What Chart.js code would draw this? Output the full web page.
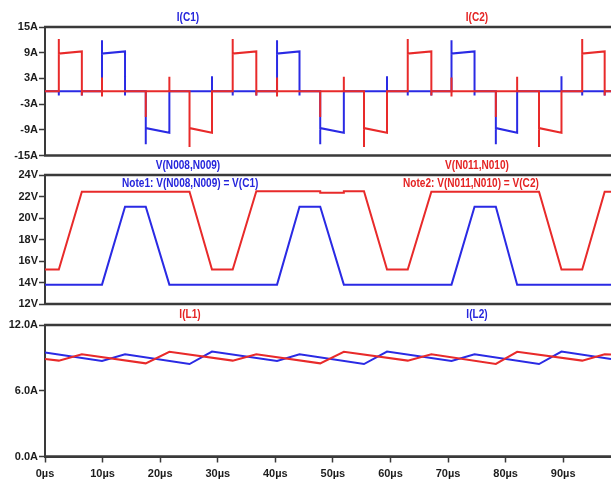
<!DOCTYPE html>
<html>
<head>
<meta charset="utf-8">
<script src="https://cdn.jsdelivr.net/npm/chart.js@4.4.1/dist/chart.umd.min.js"></script>
<style>
  html, body { margin: 0; padding: 0; background: #fff; }
  #wrap { position: relative; width: 611px; height: 479px; overflow: hidden; background: #fff; }
  #wrap canvas { position: absolute; left: 0; }
  .lbl { position: absolute; font: bold 12px "Liberation Sans", Arial, sans-serif;
         white-space: nowrap; line-height: 14px; z-index: 5; }
  .mid { transform: translateX(-50%) scaleX(0.84); transform-origin: 50% 50%; }
  .left { transform: scaleX(0.84); transform-origin: 0 50%; }
  .blue { color: #2626dc; }
  .red { color: #e42424; }
</style>
</head>
<body>
<div id="wrap">
  <canvas id="paneCap" width="611" height="150" style="top:17px"></canvas>
  <canvas id="paneVolt" width="611" height="150" style="top:165px"></canvas>
  <canvas id="paneInd" width="611" height="164" style="top:315px"></canvas>

  <div class="lbl mid blue" style="left:188px;top:10px">I(C1)</div>
  <div class="lbl mid red" style="left:477px;top:10px">I(C2)</div>
  <div class="lbl mid blue" style="left:188px;top:158px">V(N008,N009)</div>
  <div class="lbl mid red" style="left:477px;top:158px">V(N011,N010)</div>
  <div class="lbl left blue" style="left:122px;top:176px">Note1: V(N008,N009) = V(C1)</div>
  <div class="lbl left red" style="left:403px;top:176px">Note2: V(N011,N010) = V(C2)</div>
  <div class="lbl mid red" style="left:190px;top:307px">I(L1)</div>
  <div class="lbl mid blue" style="left:477px;top:307px">I(L2)</div>
</div>
<script>
// ---- time axis (µs) ----
const timeTicks = [0, 10, 20, 30, 40, 50, 60, 70, 80, 90];
const timeLabels = ['0µs', '10µs', '20µs', '30µs', '40µs', '50µs', '60µs', '70µs', '80µs', '90µs'];
const timeEnd = 98.3;

// ---- capacitor currents, pane 1 (A) ----
const capTicks = [-15, -9, -3, 3, 9, 15];
const capLabels = ['-15A', '-9A', '-3A', '3A', '9A', '15A'];

// [time µs, current A]
const iC1 = [
  [0, 0],
  [2.4, 0], [2.4, -1.0], [2.4, 0],
  [6.4, 0], [6.4, -1.0], [6.4, 0],
  [9.9, 0], [9.9, 11.9], [9.9, 8.8], [13.9, 9.3], [13.9, -1.0], [13.9, 0],
  [17.5, 0], [17.5, -12.4], [17.5, -8.6], [21.6, -9.7], [21.6, 0],
  [29.0, 0], [29.0, 3.5], [29.0, 0],
  [32.6, 0], [32.6, -1.0], [32.6, 0],
  [36.7, 0], [36.7, -1.0], [36.7, 0],
  [40.3, 0], [40.3, 11.9], [40.3, 8.8], [44.2, 9.3], [44.2, -1.0], [44.2, 0],
  [47.8, 0], [47.8, -12.4], [47.8, -8.6], [51.9, -9.7], [51.9, 0],
  [59.4, 0], [59.4, 3.5], [59.4, 0],
  [63.0, 0], [63.0, -1.0], [63.0, 0],
  [67.1, 0], [67.1, -1.0], [67.1, 0],
  [70.6, 0], [70.6, 11.9], [70.6, 8.8], [74.6, 9.3], [74.6, -1.0], [74.6, 0],
  [78.3, 0], [78.3, -12.4], [78.3, -8.6], [82.0, -9.7], [82.0, 0],
  [89.7, 0], [89.7, 3.5], [89.7, 0],
  [93.3, 0], [93.3, -1.0], [93.3, 0],
  [97.2, 0], [97.2, -1.0], [97.2, 0],
  [98.3, 0]
];

const iC2 = [
  [0, 0],
  [2.4, 0], [2.4, 12.2], [2.4, 8.8], [6.4, 9.3], [6.4, -1.0], [6.4, 0],
  [9.9, 0], [9.9, 3.2], [9.9, -1.2], [9.9, 0],
  [17.5, 0], [17.5, -6.0], [17.5, 0],
  [21.6, 0], [21.6, 3.4], [21.6, 0],
  [25.1, 0], [25.1, -13.0], [25.1, -8.6], [29.0, -9.7], [29.0, 0],
  [32.6, 0], [32.6, 12.2], [32.6, 8.8], [36.7, 9.3], [36.7, -1.0], [36.7, 0],
  [40.3, 0], [40.3, 3.2], [40.3, -1.2], [40.3, 0],
  [47.8, 0], [47.8, -6.0], [47.8, 0],
  [51.9, 0], [51.9, 3.4], [51.9, 0],
  [55.4, 0], [55.4, -13.0], [55.4, -8.6], [59.4, -9.7], [59.4, 0],
  [63.0, 0], [63.0, 12.2], [63.0, 8.8], [67.1, 9.3], [67.1, -1.0], [67.1, 0],
  [70.6, 0], [70.6, 3.2], [70.6, -1.2], [70.6, 0],
  [78.3, 0], [78.3, -6.0], [78.3, 0],
  [82.0, 0], [82.0, 3.4], [82.0, 0],
  [85.8, 0], [85.8, -13.0], [85.8, -8.6], [89.7, -9.7], [89.7, 0],
  [93.3, 0], [93.3, 12.2], [93.3, 8.8], [97.2, 9.3], [97.2, -1.0], [97.2, 0],
  [98.3, 0]
];

// ---- node voltages, pane 2 (V) ----
const voltTicks = [12, 14, 16, 18, 20, 22, 24];
const voltLabels = ['12V', '14V', '16V', '18V', '20V', '22V', '24V'];

const vN008N009 = [
  [0, 13.8], [9.9, 13.8], [13.9, 21.05], [17.5, 21.05], [21.6, 13.8],
  [40.3, 13.8], [44.2, 21.05], [47.8, 21.05], [51.9, 13.8],
  [70.6, 13.8], [74.6, 21.05], [78.3, 21.05], [82.0, 13.8],
  [98.3, 13.8]
];

const vN011N010 = [
  [0, 15.2], [2.4, 15.2], [6.4, 22.45], [25.1, 22.45], [29.0, 15.2],
  [32.6, 15.2], [36.7, 22.5], [47.8, 22.5], [47.8, 22.35], [51.9, 22.35], [51.9, 22.5],
  [55.4, 22.5], [59.4, 15.2],
  [63.0, 15.2], [67.1, 22.45], [85.8, 22.45], [89.7, 15.2],
  [93.3, 15.2], [97.2, 22.45], [98.3, 22.45]
];

// ---- inductor currents, pane 3 (A) ----
const indTicks = [0, 6, 12];
const indLabels = ['0.0A', '6.0A', '12.0A'];

const iL1 = [
  [0, 8.9], [2.4, 8.75], [6.4, 9.33], [17.5, 8.5], [21.6, 9.55],
  [32.6, 8.75], [36.7, 9.33], [47.8, 8.5], [51.9, 9.55],
  [63.0, 8.75], [67.1, 9.33], [78.3, 8.45], [82.0, 9.55],
  [93.3, 8.75], [97.2, 9.33], [98.3, 9.3]
];

const iL2 = [
  [0, 9.5], [9.9, 8.72], [13.9, 9.33], [25.1, 8.44], [29.0, 9.57],
  [40.3, 8.72], [44.2, 9.33], [55.4, 8.44], [59.4, 9.57],
  [70.6, 8.72], [74.6, 9.33], [85.8, 8.44], [89.7, 9.57],
  [98.3, 8.9]
];

// ---- styling ----
const FONT = '"Liberation Sans", Arial, sans-serif';
const BLUE = '#2a2ae4';
const RED = '#e82a2a';
const INK = '#1c1c1c';
const FRAME = '#3a3a3a';

// horizontal rules along the top and bottom of each plot box
const frameLines = {
  id: 'frameLines',
  afterDraw(chart) {
    const { ctx, chartArea: a } = chart;
    ctx.save();
    ctx.strokeStyle = FRAME;
    ctx.lineWidth = 2.5;
    ctx.beginPath();
    ctx.moveTo(a.left - 1, a.top);
    ctx.lineTo(a.right, a.top);
    ctx.moveTo(a.left - 1, a.bottom);
    ctx.lineTo(a.right, a.bottom);
    ctx.stroke();
    ctx.restore();
  }
};

function toXY(pairs) {
  return pairs.map(p => ({ x: p[0], y: p[1] }));
}

function makePane(id, series, yTicks, yLabels, bottomPad, withTime) {
  const yMin = yTicks[0];
  const yMax = yTicks[yTicks.length - 1];
  return new Chart(document.getElementById(id), {
    type: 'line',
    data: {
      datasets: series.map(s => ({
        label: s.name,
        data: toXY(s.pts),
        borderColor: s.color,
        borderWidth: 2,
        pointRadius: 0,
        tension: 0,
        fill: false
      }))
    },
    options: {
      responsive: false,
      animation: false,
      devicePixelRatio: 1,
      layout: { padding: { top: 10, right: 0, bottom: bottomPad, left: 0 } },
      plugins: { legend: { display: false }, tooltip: { enabled: false } },
      scales: {
        x: {
          type: 'linear',
          min: 0,
          max: timeEnd,
          display: withTime,
          afterBuildTicks: s => { s.ticks = timeTicks.map(v => ({ value: v })); },
          afterFit: s => { s.height = withTime ? 22.5 : 0; },
          ticks: {
            autoSkip: false,
            maxRotation: 0,
            padding: 5,
            color: INK,
            font: { family: FONT, size: 11, weight: 'bold' },
            callback: (v, i) => timeLabels[i]
          },
          grid: { display: true, drawOnChartArea: false, drawTicks: true, tickLength: 6, tickColor: FRAME, tickWidth: 1.5 },
          border: { display: true, color: FRAME, width: 2 }
        },
        y: {
          min: yMin,
          max: yMax,
          afterBuildTicks: s => { s.ticks = yTicks.map(v => ({ value: v })); },
          afterFit: s => { s.width = 45; },
          ticks: {
            autoSkip: false,
            padding: 1,
            color: INK,
            font: { family: FONT, size: 11, weight: 'bold' },
            callback: (v, i) => yLabels[i]
          },
          grid: { display: true, drawOnChartArea: false, drawTicks: true, tickLength: 6, tickColor: FRAME, tickWidth: 1.5 },
          border: { display: true, color: FRAME, width: 2 }
        }
      }
    },
    plugins: [frameLines]
  });
}

// red traces first so they are painted over the blue ones
makePane('paneCap', [
  { name: 'I(C2)', pts: iC2, color: RED },
  { name: 'I(C1)', pts: iC1, color: BLUE }
], capTicks, capLabels, 11.5, false);

makePane('paneVolt', [
  { name: 'V(N011,N010)', pts: vN011N010, color: RED },
  { name: 'V(N008,N009)', pts: vN008N009, color: BLUE }
], voltTicks, voltLabels, 11, false);

makePane('paneInd', [
  { name: 'I(L1)', pts: iL1, color: RED },
  { name: 'I(L2)', pts: iL2, color: BLUE }
], indTicks, indLabels, 0, true);
</script>
</body>
</html>
